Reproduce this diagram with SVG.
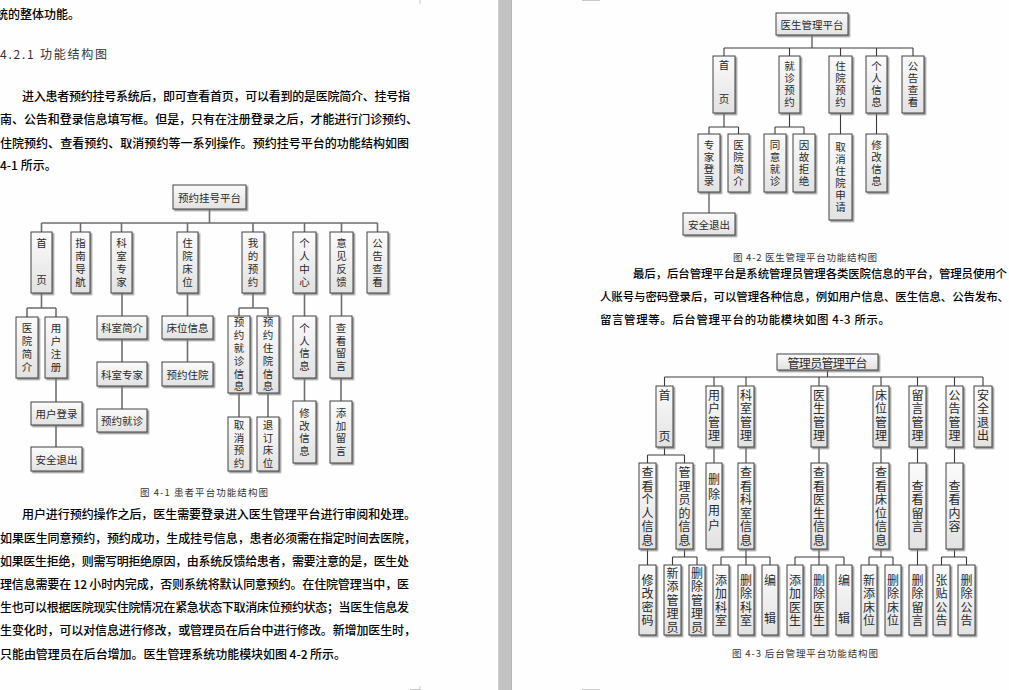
<svg xmlns="http://www.w3.org/2000/svg" width="1009" height="690" viewBox="0 0 1009 690">
<defs>
<linearGradient id="bg" x1="0" y1="0" x2="0" y2="1">
<stop offset="0" stop-color="#fbfbfb"/>
<stop offset="1" stop-color="#e2e2e2"/>
</linearGradient>
<filter id="ds" x="-30%" y="-30%" width="160%" height="160%">
<feDropShadow dx="1.6" dy="1.6" stdDeviation="0.6" flood-color="#7a7a7a" flood-opacity="0.8"/>
</filter>
<style>
.bx{fill:url(#bg);stroke:#404040;stroke-width:1;filter:url(#ds)}
.t1,.t2,.t3{font-family:"Noto Sans CJK SC",sans-serif;fill:#2a2a2a;text-anchor:middle;dominant-baseline:central}
.t1{font-size:10.5px}
.t2{font-size:10.5px}
.t3{font-size:12px}
.v{writing-mode:vertical-rl;text-anchor:start}
.s1{letter-spacing:2.3px}
.s2{letter-spacing:1.5px}
.s3{letter-spacing:1.5px}
.c1{fill:none;stroke:#6e6e6e;stroke-width:1.6}
.c2{fill:none;stroke:#3a3a3a;stroke-width:1.1}
.p{font-family:"Noto Sans CJK SC",sans-serif;font-size:12px;font-weight:500;fill:#000;dominant-baseline:central}
.pr{font-family:"Noto Sans CJK SC",sans-serif;font-size:11.4px;font-weight:500;fill:#000;dominant-baseline:central}
.h{font-family:"Noto Sans CJK SC",sans-serif;font-size:12px;fill:#333;dominant-baseline:central}
.cap{font-family:"Noto Sans CJK SC",sans-serif;font-size:9.5px;fill:#333;dominant-baseline:central}
.mk{stroke:#c8c8c8;stroke-width:1;fill:none}
</style>
</defs>
<rect width="1009" height="690" fill="#fefefe"/>
<rect x="498" y="0" width="14" height="690" fill="#c2c2c2"/>
<line x1="498.5" y1="0" x2="498.5" y2="690" stroke="#cfcfcf"/>
<line x1="511.5" y1="0" x2="511.5" y2="690" stroke="#b6b6b6"/>
<path class="mk" d="M420 0V4M582 0.5H600M420 686V690M582 689.5H600M410 689.5H420"/>

<!-- Left page text -->
<text class="p" x="-4" y="13">统的整体功能。</text>
<text class="h" x="0" y="53" textLength="107" lengthAdjust="spacing">4.2.1 功能结构图</text>
<text class="p" x="22" y="95" textLength="388" lengthAdjust="spacing">进入患者预约挂号系统后，即可查看首页，可以看到的是医院简介、挂号指</text>
<text class="p" x="0" y="118" textLength="418" lengthAdjust="spacing">南、公告和登录信息填写框。但是，只有在注册登录之后，才能进行门诊预约、</text>
<text class="p" x="0" y="142" textLength="409" lengthAdjust="spacing">住院预约、查看预约、取消预约等一系列操作。预约挂号平台的功能结构如图</text>
<text class="p" x="0" y="164">4-1 所示。</text>

<text class="cap" x="140" y="492" textLength="128" lengthAdjust="spacing">图 4-1 患者平台功能结构图</text>

<text class="p" x="22" y="513" textLength="394" lengthAdjust="spacing">用户进行预约操作之后，医生需要登录进入医生管理平台进行审阅和处理。</text>
<text class="p" x="0" y="537" textLength="416" lengthAdjust="spacing">如果医生同意预约，预约成功，生成挂号信息，患者必须需在指定时间去医院，</text>
<text class="p" x="0" y="560" textLength="409" lengthAdjust="spacing">如果医生拒绝，则需写明拒绝原因，由系统反馈给患者，需要注意的是，医生处</text>
<text class="p" x="0" y="583" textLength="409" lengthAdjust="spacing">理信息需要在 12 小时内完成，否则系统将默认同意预约。在住院管理当中，医</text>
<text class="p" x="0" y="606" textLength="409" lengthAdjust="spacing">生也可以根据医院现实住院情况在紧急状态下取消床位预约状态；当医生信息发</text>
<text class="p" x="0" y="629" textLength="416" lengthAdjust="spacing">生变化时，可以对信息进行修改，或管理员在后台中进行修改。新增加医生时，</text>
<text class="p" x="0" y="653" textLength="346" lengthAdjust="spacing">只能由管理员在后台增加。医生管理系统功能模块如图 4-2 所示。</text>

<!-- Right page text -->
<text class="cap" x="733" y="257" textLength="144" lengthAdjust="spacing">图 4-2 医生管理平台功能结构图</text>
<text class="pr" x="633" y="273" textLength="374" lengthAdjust="spacing">最后，后台管理平台是系统管理员管理各类医院信息的平台，管理员使用个</text>
<text class="pr" x="600" y="296" textLength="409" lengthAdjust="spacing">人账号与密码登录后，可以管理各种信息，例如用户信息、医生信息、公告发布、</text>
<text class="pr" x="600" y="319" textLength="290" lengthAdjust="spacing">留言管理等。后台管理平台的功能模块如图 4-3 所示。</text>
<text class="cap" x="732" y="653" textLength="146" lengthAdjust="spacing">图 4-3 后台管理平台功能结构图</text>

<!-- Connectors -->
<g id="connectors">
<path class="c1" d="M209.5 209V223M41.5 223H377.5M41.5 223V232M80.5 223V232M121.5 223V232M187.5 223V232M253 223V232M304.5 223V232M341.5 223V232M377.5 223V232
M41.5 293V308M27 308H56M27 308V317M56 308V317M56 378V402M56 425V447
M122 293V316M122 339V362M122 386V409M187.5 293V316M187.5 339V362
M253 293V308M239 308H268M239 308V316M268 308V316M239 393V417M268 393V417
M304.5 293V316M304.5 378V401M341.5 293V316M341 378V401"/>
<path class="c2" d="M812 35V48M724 48H913M724 48V56M789.5 48V56M840.5 48V56M876.5 48V56M913 48V56
M724 113V127M709 127H738.5M709 127V134M738.5 127V134M709 192V213
M789.5 113V127M775 127H804M775 127V134M804 127V134M840.5 113V134M876.5 113V134"/>
<path class="c2" d="M827.5 370V377M664.5 377H983M664.5 377V386M714 377V386M746 377V386M819 377V386M881 377V386M917.5 377V386M954.5 377V386M983 377V386
M664.5 447V455M647.5 455H684.5M647.5 455V463M684.5 455V463
M714 447V463M746 447V463M819 447V463M881 447V463M917.5 447V463M954.5 447V463
M647.5 549V565M684.5 549V557M672.5 557H697M672.5 557V565M697 557V565
M746 549V557M721 557H770M721 557V565M746 557V565M770 557V565
M819 549V557M795 557H844M795 557V565M819 557V565M844 557V565
M881 549V557M869 557H893M869 557V565M893 557V565
M917.5 549V565M954.5 549V557M941.5 557H966.5M941.5 557V565M966.5 557V565"/>
</g>

<!-- Figure 4-1 nodes -->
<g id="n1_root"><rect class="bx" x="173" y="185" width="73" height="24"/><text class="t1" x="209.5" y="197">预约挂号平台</text></g>
<g id="n1_home"><rect class="bx" x="31" y="232" width="21" height="61"/><text class="t1 v" x="41.5" y="237.75" style="letter-spacing:26.5px">首页</text></g>
<g id="n1_guide"><rect class="bx" x="71" y="232" width="19" height="61"/><text class="t1 v s1" x="80.5" y="238.05">指南导航</text></g>
<g id="n1_dept"><rect class="bx" x="111" y="232" width="21" height="61"/><text class="t1 v s1" x="121.5" y="238.05">科室专家</text></g>
<g id="n1_bed"><rect class="bx" x="177" y="232" width="21" height="61"/><text class="t1 v s1" x="187.5" y="238.05">住院床位</text></g>
<g id="n1_appt"><rect class="bx" x="242" y="232" width="22" height="61"/><text class="t1 v s1" x="253" y="238.05">我的预约</text></g>
<g id="n1_user"><rect class="bx" x="293" y="232" width="23" height="61"/><text class="t1 v s1" x="304.5" y="238.05">个人中心</text></g>
<g id="n1_fb"><rect class="bx" x="330" y="232" width="23" height="61"/><text class="t1 v s1" x="341.5" y="238.05">意见反馈</text></g>
<g id="n1_notice"><rect class="bx" x="367" y="232" width="21" height="61"/><text class="t1 v s1" x="377.5" y="238.05">公告查看</text></g>

<g id="n1_intro"><rect class="bx" x="16" y="317" width="22" height="61"/><text class="t1 v s1" x="27" y="323.05">医院简介</text></g>
<g id="n1_reg"><rect class="bx" x="45" y="317" width="22" height="61"/><text class="t1 v s1" x="56" y="323.05">用户注册</text></g>
<g id="n1_login"><rect class="bx" x="31" y="402" width="51" height="23"/><text class="t1" x="56.5" y="413.5">用户登录</text></g>
<g id="n1_logout"><rect class="bx" x="31" y="447" width="51" height="24"/><text class="t1" x="56.5" y="459">安全退出</text></g>
<g id="n1_deptintro"><rect class="bx" x="97" y="316" width="50" height="23"/><text class="t1" x="122" y="327.5">科室简介</text></g>
<g id="n1_deptexp"><rect class="bx" x="97" y="362" width="50" height="24"/><text class="t1" x="122" y="374">科室专家</text></g>
<g id="n1_bookvisit"><rect class="bx" x="97" y="409" width="50" height="23"/><text class="t1" x="122" y="420.5">预约就诊</text></g>
<g id="n1_bedinfo"><rect class="bx" x="162" y="316" width="51" height="23"/><text class="t1" x="187.5" y="327.5">床位信息</text></g>
<g id="n1_bookbed"><rect class="bx" x="162" y="362" width="51" height="24"/><text class="t1" x="187.5" y="374">预约住院</text></g>
<g id="n1_visitinfo"><rect class="bx" x="228" y="316" width="22" height="77"/><text class="t1 v s1" x="239" y="317.25">预约就诊信息</text></g>
<g id="n1_bedbook"><rect class="bx" x="257" y="316" width="22" height="77"/><text class="t1 v s1" x="268" y="317.25">预约住院信息</text></g>
<g id="n1_cancel"><rect class="bx" x="228" y="417" width="22" height="54"/><text class="t1 v s1" x="239" y="419.55">取消预约</text></g>
<g id="n1_unbook"><rect class="bx" x="257" y="417" width="22" height="54"/><text class="t1 v s1" x="268" y="419.55">退订床位</text></g>
<g id="n1_pinfo"><rect class="bx" x="293" y="316" width="23" height="62"/><text class="t1 v s1" x="304.5" y="322.55">个人信息</text></g>
<g id="n1_pedit"><rect class="bx" x="293" y="401" width="23" height="62"/><text class="t1 v s1" x="304.5" y="407.55">修改信息</text></g>
<g id="n1_viewmsg"><rect class="bx" x="330" y="316" width="22" height="62"/><text class="t1 v s1" x="341" y="322.55">查看留言</text></g>
<g id="n1_addmsg"><rect class="bx" x="330" y="401" width="22" height="62"/><text class="t1 v s1" x="341" y="407.55">添加留言</text></g>

<!-- Figure 4-2 nodes -->
<g id="n2_root"><rect class="bx" x="776" y="13" width="72" height="22"/><text class="t2" x="812" y="24">医生管理平台</text></g>
<g id="n2_home"><rect class="bx" x="713" y="56" width="22" height="57"/><text class="t2 v" x="724" y="59.75" style="letter-spacing:23.5px">首页</text></g>
<g id="n2_visit"><rect class="bx" x="779" y="56" width="21" height="57"/><text class="t2 v s2" x="789.5" y="61.25">就诊预约</text></g>
<g id="n2_inpat"><rect class="bx" x="829" y="56" width="23" height="57"/><text class="t2 v s2" x="840.5" y="61.25">住院预约</text></g>
<g id="n2_pinfo"><rect class="bx" x="866" y="56" width="21" height="57"/><text class="t2 v s2" x="876.5" y="61.25">个人信息</text></g>
<g id="n2_notice"><rect class="bx" x="902" y="56" width="22" height="57"/><text class="t2 v s2" x="913" y="61.25">公告查看</text></g>
<g id="n2_expert"><rect class="bx" x="698" y="134" width="22" height="58"/><text class="t2 v s2" x="709" y="139.75">专家登录</text></g>
<g id="n2_intro"><rect class="bx" x="728" y="134" width="21" height="58"/><text class="t2 v s2" x="738.5" y="139.75">医院简介</text></g>
<g id="n2_logout"><rect class="bx" x="683" y="213" width="52" height="22"/><text class="t2" x="709" y="224">安全退出</text></g>
<g id="n2_agree"><rect class="bx" x="764" y="134" width="22" height="58"/><text class="t2 v s2" x="775" y="139.75">同意就诊</text></g>
<g id="n2_refuse"><rect class="bx" x="793" y="134" width="22" height="58"/><text class="t2 v s2" x="804" y="139.75">因故拒绝</text></g>
<g id="n2_cancel"><rect class="bx" x="829" y="134" width="23" height="86"/><text class="t2 v s2" x="840.5" y="141.75">取消住院申请</text></g>
<g id="n2_edit"><rect class="bx" x="866" y="134" width="21" height="58"/><text class="t2 v s2" x="876.5" y="139.75">修改信息</text></g>

<!-- Figure 4-3 nodes -->
<g id="n3_root"><rect class="bx" x="777" y="354" width="101" height="16"/><text class="t3" x="827.5" y="362" textLength="80" lengthAdjust="spacing">管理员管理平台</text></g>
<g id="n3_home"><rect class="bx" x="656" y="386" width="17" height="61"/><text class="t3 v" x="664.5" y="389" style="letter-spacing:29px">首页</text></g>
<g id="n3_user"><rect class="bx" x="706" y="386" width="16" height="61"/><text class="t3 v s3" x="714" y="389">用户管理</text></g>
<g id="n3_dept"><rect class="bx" x="738" y="386" width="16" height="61"/><text class="t3 v s3" x="746" y="389">科室管理</text></g>
<g id="n3_doc"><rect class="bx" x="811" y="386" width="16" height="61"/><text class="t3 v s3" x="819" y="389">医生管理</text></g>
<g id="n3_bed"><rect class="bx" x="873" y="386" width="16" height="61"/><text class="t3 v s3" x="881" y="389">床位管理</text></g>
<g id="n3_msg"><rect class="bx" x="909" y="386" width="17" height="61"/><text class="t3 v s3" x="917.5" y="389">留言管理</text></g>
<g id="n3_notice"><rect class="bx" x="946" y="386" width="17" height="61"/><text class="t3 v s3" x="954.5" y="389">公告管理</text></g>
<g id="n3_exit"><rect class="bx" x="974" y="386" width="18" height="61"/><text class="t3 v s3" x="983" y="389">安全退出</text></g>

<g id="n3_myinfo"><rect class="bx" x="639" y="463" width="17" height="86"/><text class="t3 v s3" x="647.5" y="466.5">查看个人信息</text></g>
<g id="n3_admininfo"><rect class="bx" x="676" y="463" width="17" height="86"/><text class="t3 v s3" x="684.5" y="466.5">管理员的信息</text></g>
<g id="n3_deluser"><rect class="bx" x="706" y="463" width="16" height="86"/><text class="t3 v" x="714" y="473" style="letter-spacing:3.5px">删除用户</text></g>
<g id="n3_viewdept"><rect class="bx" x="738" y="463" width="16" height="86"/><text class="t3 v s3" x="746" y="466.5">查看科室信息</text></g>
<g id="n3_viewdoc"><rect class="bx" x="811" y="463" width="16" height="86"/><text class="t3 v s3" x="819" y="466.5">查看医生信息</text></g>
<g id="n3_viewbed"><rect class="bx" x="873" y="463" width="16" height="86"/><text class="t3 v s3" x="881" y="466.5">查看床位信息</text></g>
<g id="n3_viewmsg"><rect class="bx" x="909" y="463" width="17" height="86"/><text class="t3 v s3" x="917.5" y="480">查看留言</text></g>
<g id="n3_viewnotice"><rect class="bx" x="946" y="463" width="17" height="86"/><text class="t3 v s3" x="954.5" y="480">查看内容</text></g>

<g id="n3_pwd"><rect class="bx" x="639" y="565" width="17" height="70"/><text class="t3 v s3" x="647.5" y="574">修改密码</text></g>
<g id="n3_addadmin"><rect class="bx" x="664" y="565" width="17" height="70"/><text class="t3 v s3" x="672.5" y="567">新添管理员</text></g>
<g id="n3_deladmin"><rect class="bx" x="689" y="565" width="16" height="70"/><text class="t3 v s3" x="697" y="567">删除管理员</text></g>
<g id="n3_adddept"><rect class="bx" x="713" y="565" width="16" height="70"/><text class="t3 v s3" x="721" y="574">添加科室</text></g>
<g id="n3_deldept"><rect class="bx" x="738" y="565" width="16" height="70"/><text class="t3 v s3" x="746" y="574">删除科室</text></g>
<g id="n3_editdept"><rect class="bx" x="762" y="565" width="16" height="70"/><text class="t3 v" x="770" y="574" style="letter-spacing:26px">编辑</text></g>
<g id="n3_adddoc"><rect class="bx" x="787" y="565" width="16" height="70"/><text class="t3 v s3" x="795" y="574">添加医生</text></g>
<g id="n3_deldoc"><rect class="bx" x="811" y="565" width="16" height="70"/><text class="t3 v s3" x="819" y="574">删除医生</text></g>
<g id="n3_editdoc"><rect class="bx" x="836" y="565" width="16" height="70"/><text class="t3 v" x="844" y="574" style="letter-spacing:26px">编辑</text></g>
<g id="n3_addbed"><rect class="bx" x="861" y="565" width="16" height="70"/><text class="t3 v s3" x="869" y="574">新添床位</text></g>
<g id="n3_delbed"><rect class="bx" x="885" y="565" width="16" height="70"/><text class="t3 v s3" x="893" y="574">删除床位</text></g>
<g id="n3_delmsg"><rect class="bx" x="909" y="565" width="17" height="70"/><text class="t3 v s3" x="917.5" y="574">删除留言</text></g>
<g id="n3_post"><rect class="bx" x="933" y="565" width="17" height="70"/><text class="t3 v s3" x="941.5" y="574">张贴公告</text></g>
<g id="n3_delnotice"><rect class="bx" x="958" y="565" width="17" height="70"/><text class="t3 v s3" x="966.5" y="574">删除公告</text></g>
</svg>
